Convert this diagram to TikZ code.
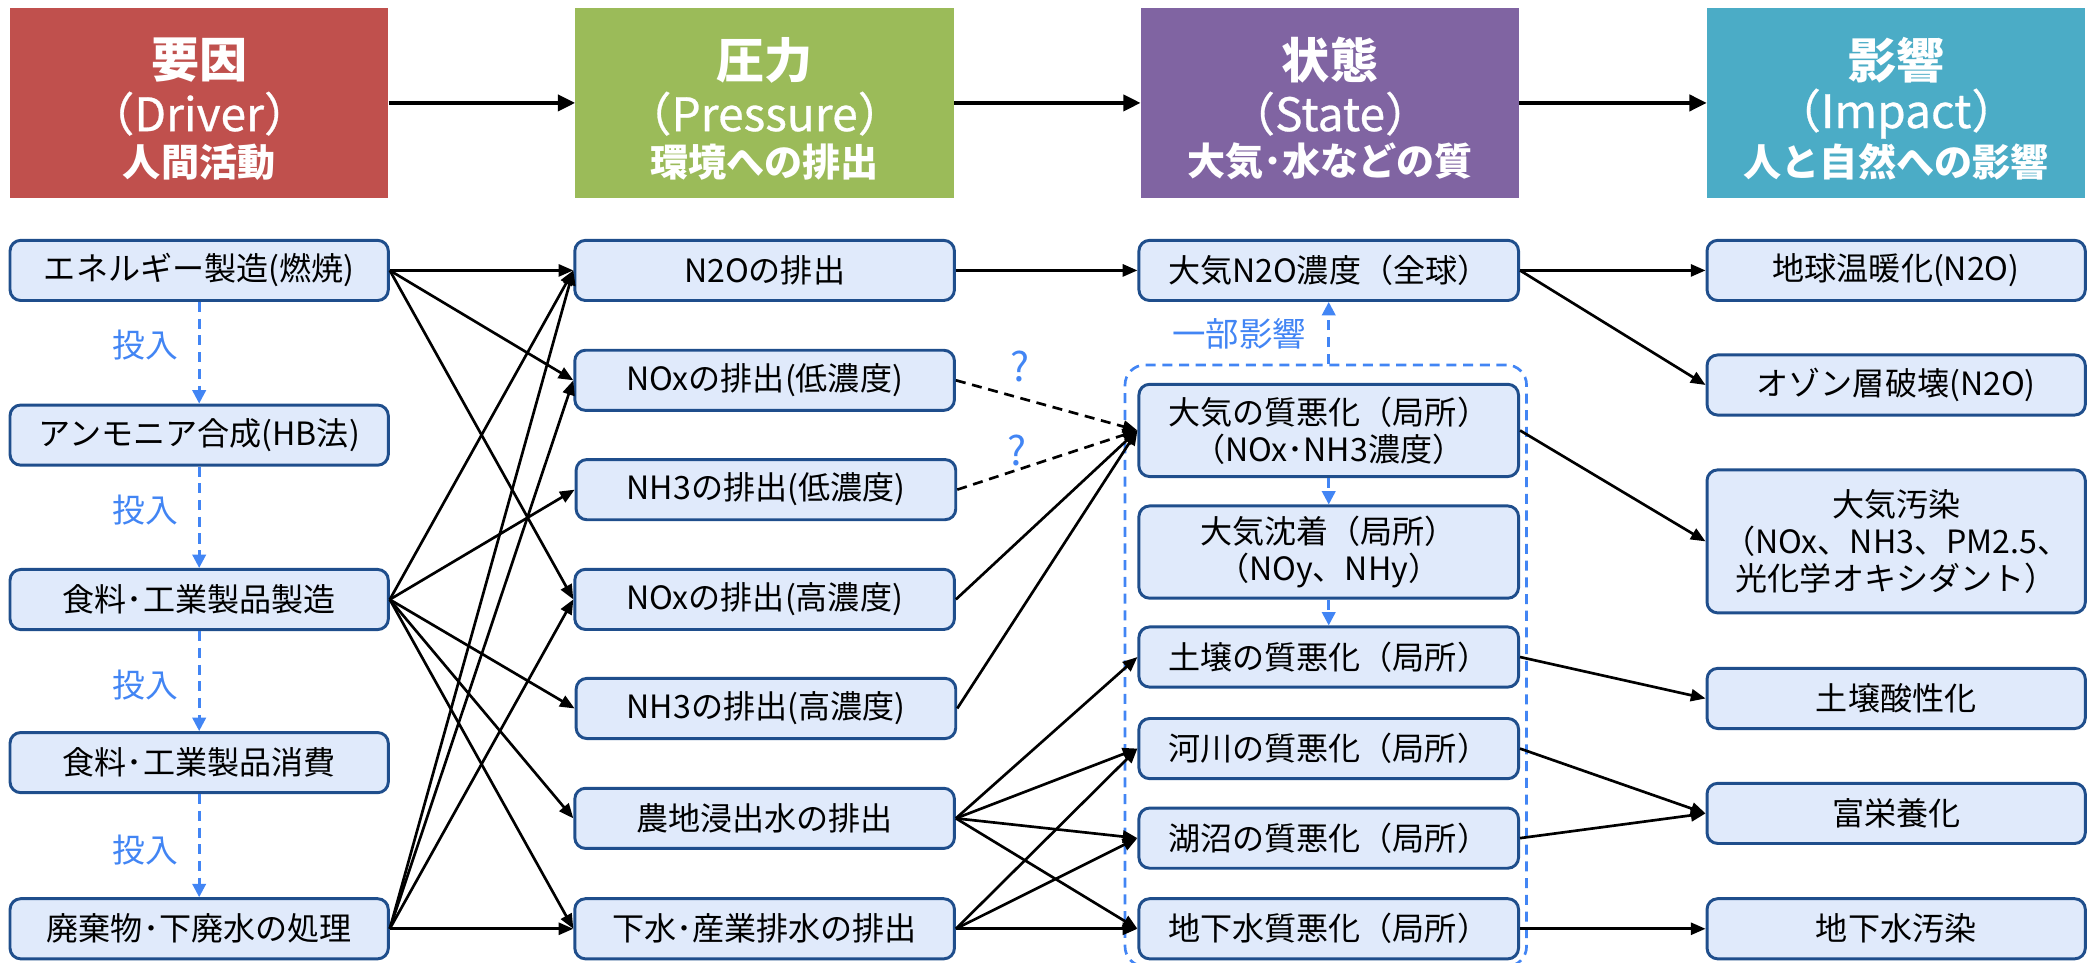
\documentclass[tikz,border=0pt]{standalone}
\usepackage{fontspec}
\setmainfont{Noto Sans CJK JP}
\newfontfamily\hmedium[FakeBold=0.6]{Noto Sans CJK JP}
\usetikzlibrary{arrows.meta}
\definecolor{hdred}{HTML}{C0504D}
\definecolor{hdgreen}{HTML}{9BBB59}
\definecolor{hdpurple}{HTML}{8064A2}
\definecolor{hdteal}{HTML}{4BACC6}
\definecolor{boxfill}{HTML}{E0EAFB}
\definecolor{boxline}{HTML}{1F4E8C}
\definecolor{myblue}{HTML}{4285F4}
\tikzset{
  box/.style={draw=boxline, fill=boxfill, line width=2.2pt, rounded corners=8pt,
    minimum width=283pt, minimum height=45pt, inner sep=0pt, align=center,
    font=\fontsize{24}{27.5}\selectfont},
  hdr/.style={minimum width=283pt, minimum height=142pt, inner sep=0pt},
  hta/.style={text=white, inner sep=0pt, font=\bfseries\fontsize{36}{40}\selectfont},
  htb/.style={text=white, inner sep=0pt, font=\hmedium\fontsize{34.5}{38}\selectfont},
  htc/.style={text=white, inner sep=0pt, font=\bfseries\fontsize{28.5}{32}\selectfont},
  conn/.style={line width=2pt, -{Triangle[length=11pt,width=9pt]}},
  dconn/.style={conn, dash pattern=on 7.5pt off 5pt},
  hconn/.style={line width=3pt, -{Triangle[length=13pt,width=12pt]}},
  bconn/.style={draw=myblue, line width=2pt, dash pattern=on 7.5pt off 5pt,
    -{Triangle[length=10pt,width=10pt]}},
  blab/.style={text=myblue, inner sep=0pt, font=\fontsize{24.5}{27}\selectfont},
  cont/.style={draw=myblue, line width=2pt, dash pattern=on 7.5pt off 5pt,
    rounded corners=15pt, inner sep=0pt}
}
\begin{document}
\begin{tikzpicture}[x=1pt,y=-1pt]
\useasboundingbox (0,0) rectangle (1568,720);
% headers
\node[hdr, fill=hdred] (hd) at (149,77) {};
\node[hdr, fill=hdgreen] (hp) at (572,77) {};
\node[hdr, fill=hdpurple] (hs) at (995,77) {};
\node[hdr, fill=hdteal] (hi) at (1418.5,77) {};
\node[hta] (hd1) at (149,45) {要因};
\node[htb] (hd2) at (149,85) {（Driver）};
\node[htc] (hd3) at (149,121) {人間活動};
\node[hta] (hp1) at (572,45) {圧力};
\node[htb] (hp2) at (572,85) {（Pressure）};
\node[htc] (hp3) at (572,121) {環境への排出};
\node[hta] (hs1) at (995,45) {状態};
\node[htb] (hs2) at (995,85) {（State）};
\node[htc] (hs3) at (995,121) {大気･水などの質};
\node[hta] (hi1) at (1418.5,45) {影響};
\node[htb] (hi2) at (1418.5,85) {（Impact）};
\node[htc] (hi3) at (1418.5,121) {人と自然への影響};
\draw[hconn] (hd.east) -- (hp.west);
\draw[hconn] (hp.east) -- (hs.west);
\draw[hconn] (hs.east) -- (hi.west);
% container
\node[cont, minimum width=300.4pt, minimum height=450pt] (ct) at (991.8,498) {};
% driver column
\node[box] (e1) at (149,202.3) {エネルギー製造(燃焼)};
\node[box] (am) at (149,325.5) {アンモニア合成(HB法)};
\node[box] (f1) at (149,448.5) {食料･工業製品製造};
\node[box] (c1) at (149,570.5) {食料･工業製品消費};
\node[box] (w1) at (149,694.8) {廃棄物･下廃水の処理};
% pressure column
\node[box, minimum width=284pt] (p1) at (572,202.3) {N2Oの排出};
\node[box, minimum width=284pt] (p2) at (572,284.5) {NOxの排出(低濃度)};
\node[box, minimum width=284pt] (p3) at (573,366.3) {NH3の排出(低濃度)};
\node[box, minimum width=284pt] (p4) at (572,448.4) {NOxの排出(高濃度)};
\node[box, minimum width=284pt] (p5) at (573,530) {NH3の排出(高濃度)};
\node[box, minimum width=284pt] (p6) at (572,612.2) {農地浸出水の排出};
\node[box, minimum width=284pt] (p7) at (572,694.8) {下水･産業排水の排出};
% state column
\node[box, minimum width=284pt] (s1) at (994,202.3) {大気N2O濃度（全球）};
\node[box, minimum width=284pt, minimum height=69pt] (s2) at (994,322) {大気の質悪化（局所）\\（NOx･NH3濃度）};
\node[box, minimum width=284pt, minimum height=69pt] (s3) at (994,413) {大気沈着（局所）\\（NOy、NHy）};
\node[box, minimum width=284pt] (s4) at (994,491.5) {土壌の質悪化（局所）};
\node[box, minimum width=284pt] (s5) at (994,560) {河川の質悪化（局所）};
\node[box, minimum width=284pt] (s6) at (994,627) {湖沼の質悪化（局所）};
\node[box, minimum width=284pt] (s7) at (994,694.8) {地下水質悪化（局所）};
% impact column
\node[box] (i1) at (1418.5,202.3) {地球温暖化(N2O)};
\node[box] (i2) at (1418.5,288) {オゾン層破壊(N2O)};
\node[box, minimum height=107pt] (i3) at (1418.5,405) {大気汚染\\（NOx、NH3、PM2.5、\\光化学オキシダント）};
\node[box] (i4) at (1418.5,522.5) {土壌酸性化};
\node[box] (i5) at (1418.5,608.5) {富栄養化};
\node[box] (i6) at (1418.5,694.8) {地下水汚染};
% blue dashed arrows and labels
\draw[bconn] (e1.south) -- (am.north);
\draw[bconn] (am.south) -- (f1.north);
\draw[bconn] (f1.south) -- (c1.north);
\draw[bconn] (c1.south) -- (w1.north);
\node[blab] (t1) at (108.5,258) {投入};
\node[blab] (t2) at (108.5,381.6) {投入};
\node[blab] (t3) at (108.5,512.5) {投入};
\node[blab] (t4) at (108.5,636) {投入};
\draw[bconn] (s2.south) -- (s3.north);
\draw[bconn] (s3.south) -- (s4.north);
\draw[bconn] (s1.south |- ct.north) -- (s1.south);
\node[blab, font=\fontsize{25}{27}\selectfont] (ib) at (927,250) {一部影響};
\node[blab, font=\fontsize{30}{32}\selectfont] (q1) at (763,274) {?};
\node[blab, font=\fontsize{30}{32}\selectfont] (q2) at (761,337) {?};
% driver -> pressure
\draw[conn] (e1.east) -- (p1.west);
\draw[conn] (e1.east) -- (p2.west);
\draw[conn] (e1.east) -- (p4.west);
\draw[conn] (f1.east) -- (p1.west);
\draw[conn] (f1.east) -- (p3.west);
\draw[conn] (f1.east) -- (p5.west);
\draw[conn] (f1.east) -- (p6.west);
\draw[conn] (f1.east) -- (p7.west);
\draw[conn] (w1.east) -- (p1.west);
\draw[conn] (w1.east) -- (p2.west);
\draw[conn] (w1.east) -- (p4.west);
\draw[conn] (w1.east) -- (p7.west);
% pressure -> state
\draw[conn] (p1.east) -- (s1.west);
\draw[dconn] (p2.east) -- (s2.west);
\draw[dconn] (p3.east) -- (s2.west);
\draw[conn] (p4.east) -- (s2.west);
\draw[conn] (p5.east) -- (s2.west);
\draw[conn] (p6.east) -- (s4.west);
\draw[conn] (p6.east) -- (s5.west);
\draw[conn] (p6.east) -- (s6.west);
\draw[conn] (p6.east) -- (s7.west);
\draw[conn] (p7.east) -- (s5.west);
\draw[conn] (p7.east) -- (s6.west);
\draw[conn] (p7.east) -- (s7.west);
% state -> impact
\draw[conn] (s1.east) -- (i1.west);
\draw[conn] (s1.east) -- (i2.west);
\draw[conn] (s2.east) -- (i3.west);
\draw[conn] (s4.east) -- (i4.west);
\draw[conn] (s5.east) -- (i5.west);
\draw[conn] (s6.east) -- (i5.west);
\draw[conn] (s7.east) -- (i6.west);
\end{tikzpicture}
\end{document}
